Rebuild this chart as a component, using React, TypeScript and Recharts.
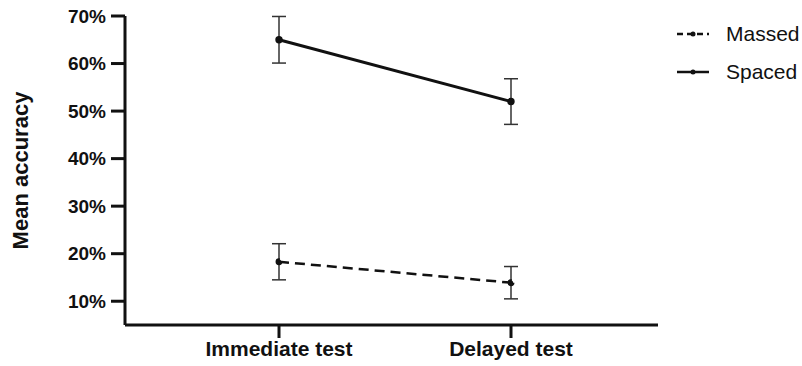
import { LineChart, Line, XAxis, YAxis, ErrorBar, Legend } from "recharts";

const categories = ["Immediate test", "Delayed test"];
const spaced = [65, 52];
const spacedErr = [4.9, 4.8];
const massed = [18.3, 13.9];
const massedErr = [3.8, 3.4];
const yTicks = [10, 20, 30, 40, 50, 60, 70];

const data = categories.map((name, i) => ({
  name,
  spaced: spaced[i],
  spacedErr: spacedErr[i],
  massed: massed[i],
  massedErr: massedErr[i],
}));

const FONT = "'Liberation Sans', Arial, Helvetica, sans-serif";

function LegendBox() {
  const rows = [
    { label: "Massed", dash: "6 4" },
    { label: "Spaced", dash: undefined },
  ];
  return (
    <div style={{ fontFamily: FONT, fontSize: 21, color: "#111" }}>
      {rows.map((r) => (
        <div key={r.label} style={{ display: "flex", alignItems: "center", height: 38 }}>
          <svg width={34} height={10} style={{ marginRight: 16 }}>
            <line x1={1} y1={5} x2={33} y2={5} stroke="#111" strokeWidth={2.5} strokeDasharray={r.dash} />
            <circle cx={17} cy={5} r={2.5} fill="#111" />
          </svg>
          <span>{r.label}</span>
        </div>
      ))}
    </div>
  );
}

export default function App() {
  return (
    <div style={{ position: "absolute", left: 0, top: 0, background: "#fff" }}>
      <LineChart width={802} height={366} data={data} margin={{ top: 16, right: 14, bottom: 0, left: 0 }}>
        <XAxis
          dataKey="name"
          padding={{ left: 154, right: 147 }}
          height={41}
          axisLine={{ stroke: "#111", strokeWidth: 3 }}
          tickLine={{ stroke: "#111", strokeWidth: 3 }}
          tickSize={13}
          tickMargin={3}
          tick={{ fontSize: 21, fontWeight: 700, fill: "#111", fontFamily: FONT }}
        />
        <YAxis
          domain={[5, 70]}
          ticks={yTicks}
          width={125}
          tickFormatter={(v: number) => `${v}%`}
          axisLine={{ stroke: "#111", strokeWidth: 3 }}
          tickLine={{ stroke: "#111", strokeWidth: 3 }}
          tickSize={14}
          tickMargin={5}
          tick={{ fontSize: 19, fontWeight: 700, fill: "#111", fontFamily: FONT }}
          label={{
            content: (props: any) => {
              const vb = props.viewBox || { y: 16, height: 309 };
              const cy = vb.y + vb.height / 2;
              return (
                <text
                  x={20}
                  y={cy}
                  transform={`rotate(-90, 20, ${cy})`}
                  textAnchor="middle"
                  dominantBaseline="central"
                  style={{ fontFamily: FONT, fontSize: 22, fontWeight: 700, fill: "#111" }}
                >
                  Mean accuracy
                </text>
              );
            },
          }}
        />
        <Legend
          layout="vertical"
          align="right"
          verticalAlign="top"
          content={() => <LegendBox />}
          wrapperStyle={{ position: "absolute", left: 676, top: 15, width: 130 }}
        />
        <Line
          dataKey="massed"
          stroke="#111"
          strokeWidth={2.5}
          strokeDasharray="10 6"
          dot={{ r: 2.2, fill: "#111", stroke: "#111" }}
          isAnimationActive={false}
        >
          <ErrorBar dataKey="massedErr" width={7} stroke="#333" strokeWidth={1.5} direction="y" />
        </Line>
        <Line
          dataKey="spaced"
          stroke="#111"
          strokeWidth={3}
          dot={{ r: 2.2, fill: "#111", stroke: "#111" }}
          isAnimationActive={false}
        >
          <ErrorBar dataKey="spacedErr" width={7} stroke="#333" strokeWidth={1.5} direction="y" />
        </Line>
      </LineChart>
    </div>
  );
}
